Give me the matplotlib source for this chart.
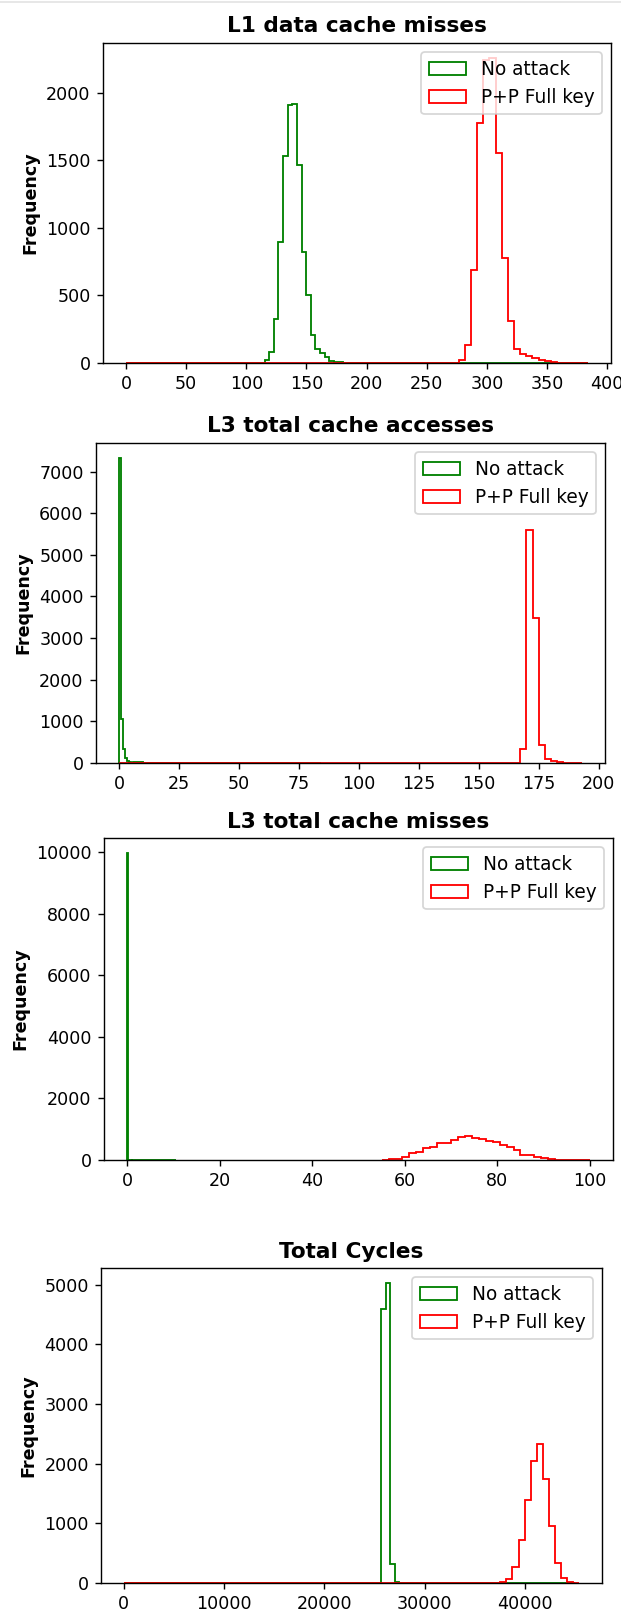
import numpy as np
import matplotlib
matplotlib.use("Agg")
import matplotlib.pyplot as plt
from matplotlib.lines import Line2D

# -----------------------
#   data (bin counts)
# -----------------------
labels = ["No attack", "P+P Full key"]
colors = ["green", "red"]
titles = ["L1 data cache misses", "L3 total cache accesses",
          "L3 total cache misses", "Total Cycles"]

# L1 data cache misses
l1_no_attack_range = (0, 384)
l1_no_attack_nbins = 100
l1_no_attack_first_bin = 30
l1_no_attack_counts = [20, 79, 326, 896, 1536, 1914, 1921, 1469, 822, 501, 205,
                       104, 74, 42, 17, 8, 4, 3, 2, 2, 1, 1, 1]
l1_attack_range = (0, 384)
l1_attack_nbins = 75
l1_attack_first_bin = 54
l1_attack_counts = [25, 136, 691, 1778, 2245, 2257, 1555, 778, 309, 104, 69,
                    54, 37, 25, 12, 8, 3, 1, 1, 1, 1]

# L3 total cache accesses
l3acc_no_attack_range = (0, 84)
l3acc_no_attack_nbins = 100
l3acc_no_attack_first_bin = 0
l3acc_no_attack_counts = [7320, 1060, 330, 110, 40, 15, 10, 22, 25, 25, 22, 20,
                          12, 8, 5, 3, 2, 1]
l3acc_attack_range = (0, 193)
l3acc_attack_nbins = 75
l3acc_attack_first_bin = 65
l3acc_attack_counts = [330, 5600, 3480, 430, 100, 60, 25, 8, 2, 1]

# L3 total cache misses
l3miss_no_attack_range = (0, 10.5)
l3miss_no_attack_nbins = 100
l3miss_no_attack_first_bin = 0
l3miss_no_attack_counts = [9955, 0, 0, 0, 0, 0, 0, 0, 0, 0, 20]
l3miss_attack_range = (55, 100)
l3miss_attack_nbins = 30
l3miss_attack_first_bin = 0
l3miss_attack_counts = [15, 25, 30, 110, 240, 270, 380, 430, 540, 560, 650, 740,
                        780, 700, 670, 630, 575, 490, 430, 325, 160, 160, 110,
                        55, 20, 5, 2, 1, 0, 1]

# Total cycles
cyc_no_attack_range = (0, 45000)
cyc_no_attack_nbins = 100
cyc_no_attack_first_bin = 57
cyc_no_attack_counts = [4600, 5030, 320, 20]
cyc_attack_range = (0, 45400)
cyc_attack_nbins = 75
cyc_attack_first_bin = 62
cyc_attack_counts = [20, 60, 260, 720, 1400, 2050, 2330, 1740, 950, 340, 85, 20, 5]

panels = [
    [(l1_no_attack_range, l1_no_attack_nbins, l1_no_attack_first_bin, l1_no_attack_counts),
     (l1_attack_range, l1_attack_nbins, l1_attack_first_bin, l1_attack_counts)],
    [(l3acc_no_attack_range, l3acc_no_attack_nbins, l3acc_no_attack_first_bin, l3acc_no_attack_counts),
     (l3acc_attack_range, l3acc_attack_nbins, l3acc_attack_first_bin, l3acc_attack_counts)],
    [(l3miss_no_attack_range, l3miss_no_attack_nbins, l3miss_no_attack_first_bin, l3miss_no_attack_counts),
     (l3miss_attack_range, l3miss_attack_nbins, l3miss_attack_first_bin, l3miss_attack_counts)],
    [(cyc_no_attack_range, cyc_no_attack_nbins, cyc_no_attack_first_bin, cyc_no_attack_counts),
     (cyc_attack_range, cyc_attack_nbins, cyc_attack_first_bin, cyc_attack_counts)],
]

# axes boxes in pixels: left, top, right, bottom
W, H = 621, 1610
axes_px = [(103, 43, 611, 363),
           (96, 443, 605, 763),
           (104, 838, 613, 1160),
           (101, 1268, 602, 1583)]


def plot_hist(ax, rng, nbins, first_bin, counts, color, label):
    edges = np.linspace(rng[0], rng[1], nbins + 1)
    weights = np.zeros(nbins)
    weights[first_bin:first_bin + len(counts)] = counts
    ax.hist(edges[:-1], bins=edges, weights=weights, histtype="step",
            color=color, label=label, linewidth=1.05)


DPI = 126
fig = plt.figure(figsize=(W / DPI, H / DPI), dpi=DPI)

for (l, t, r, b), title, series in zip(axes_px, titles, panels):
    ax = fig.add_axes([l / W, 1 - b / H, (r - l) / W, (b - t) / H])
    for (rng, nbins, first_bin, counts), color, label in zip(series, colors, labels):
        plot_hist(ax, rng, nbins, first_bin, counts, color, label)
    ax.set_title(title, fontweight="bold", fontsize=12.4)
    ax.set_ylabel("Frequency", fontweight="bold")
    ax.legend(loc="upper right", fontsize=10.6)

# faint border line at the very top of the screenshot
fig.add_artist(Line2D([0, 1], [1 - 1.5 / H, 1 - 1.5 / H], transform=fig.transFigure,
                      color="#e4e4e4", linewidth=1))

fig.savefig("out.png", dpi=DPI)
